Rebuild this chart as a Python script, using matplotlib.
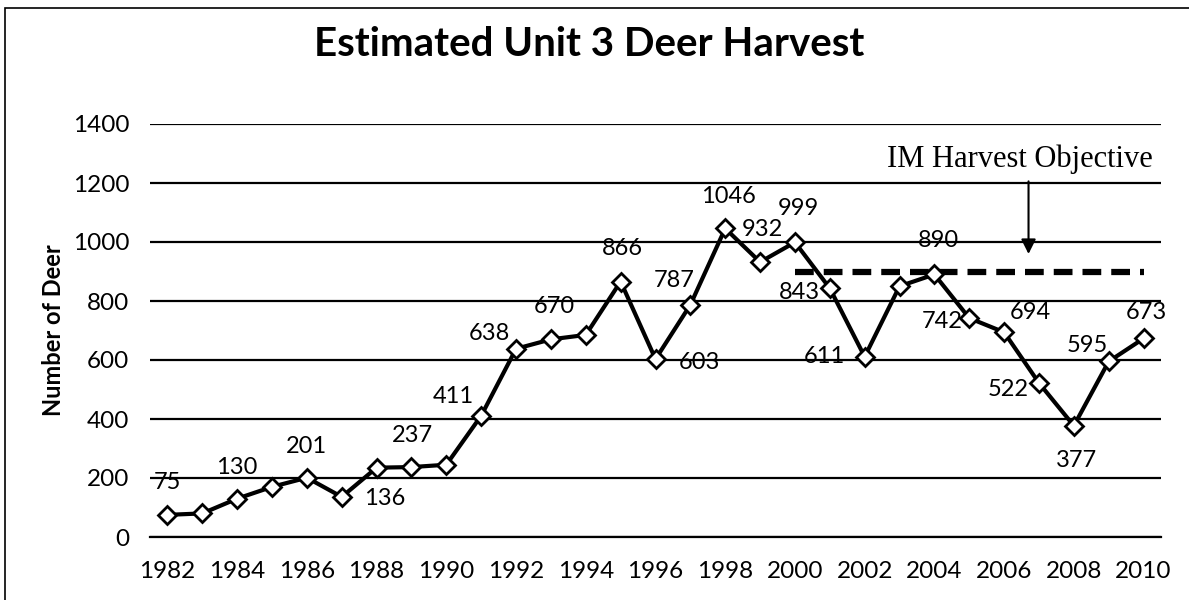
import matplotlib
matplotlib.use('Agg')
import matplotlib.pyplot as plt
from matplotlib.patches import Rectangle

# data
years = list(range(1982, 2011))
harvest = [75, 80, 130, 170, 201, 136, 235, 237, 245, 411, 638, 670, 685, 866, 603,
           787, 1046, 932, 999, 843, 611, 850, 890, 742, 694, 522, 377, 595, 673]
labelled = [1982, 1984, 1986, 1987, 1989, 1991, 1992, 1993, 1995, 1996, 1997, 1998,
            1999, 2000, 2001, 2002, 2004, 2005, 2006, 2007, 2008, 2009, 2010]
objective = 900
objective_from = 2000
xtick_years = list(range(1982, 2011, 2))
yticks = [0, 200, 400, 600, 800, 1000, 1200, 1400]

# label offsets in pixels (dx, dy), same order as labelled
offs = [(0, 32), (0, 31), (0, 31), (43, -2), (1, 32), (-28, 19), (-27, 15), (3, 33),
        (2, 33), (44, -3), (-16, 24), (3, 32), (2, 33), (3, 34), (-30, -4), (-40, 0),
        (4, 34), (-27, -3), (26, 20), (-31, -6), (3, -35), (-21, 16), (3, 26)]

plt.rcParams['font.family'] = ['Lato', 'DejaVu Sans']

fig = plt.figure(figsize=(11.89, 6), dpi=100)
ax = fig.add_axes([150/1189, 1 - 537/600, 1011/1189, 413/600])

idx = list(range(len(years)))
ax.plot(idx, harvest, color='black', lw=3, marker='D', ms=9.5, mfc='white',
        mec='black', mew=2, zorder=5)

for yr, (dx, dy) in zip(labelled, offs):
    i = years.index(yr)
    ax.annotate(str(harvest[i]), xy=(i, harvest[i]), xytext=(dx*0.72, dy*0.72),
                textcoords='offset points', ha='center', va='center', fontsize=17,
                zorder=6)

# harvest objective
i0 = years.index(objective_from)
ax.hlines(objective, i0, len(years) - 1, colors='black', lw=4.5,
          linestyles=(0, (3, 1.6)), zorder=4)
ax.annotate('', xy=(24.7, 950), xytext=(24.7, 1215),
            arrowprops=dict(arrowstyle='-|>', lw=1.5, color='black', mutation_scale=22))
ax.text(24.45, 1282, 'IM Harvest Objective', ha='center', va='center',
        fontsize=22, family=['Liberation Serif', 'DejaVu Serif'])

ax.set_xlim(-0.5, len(years) - 0.5)
ax.set_ylim(0, 1400)
ax.set_xticks([years.index(y) for y in xtick_years])
ax.set_xticklabels([str(y) for y in xtick_years], fontsize=17.5)
ax.set_yticks(yticks)
ax.set_yticklabels([str(v) for v in yticks], fontsize=17.5)
ax.tick_params(axis='x', length=0, pad=17)
ax.tick_params(axis='y', length=0, pad=15)
ax.grid(axis='y', color='black', lw=1.6)
ax.set_axisbelow(True)
for s in ['left', 'right', 'top']:
    ax.spines[s].set_visible(False)
ax.spines['bottom'].set_linewidth(1.6)

fig.text(54/1189, 1 - 330/600, 'Number of Deer', rotation=90, ha='center',
         va='center', fontsize=17, fontweight='bold')
fig.text(589/1189, 1 - 45/600, 'Estimated Unit 3 Deer Harvest', ha='center',
         va='center', fontsize=29, fontweight='bold')

# outer chart border (right/bottom run off the page)
fig.add_artist(Rectangle((5/1189, -0.1), 1.2, 1.1 - 8/600, transform=fig.transFigure,
                         fill=False, ec='black', lw=1.2))

fig.savefig('out.png', dpi=100)
